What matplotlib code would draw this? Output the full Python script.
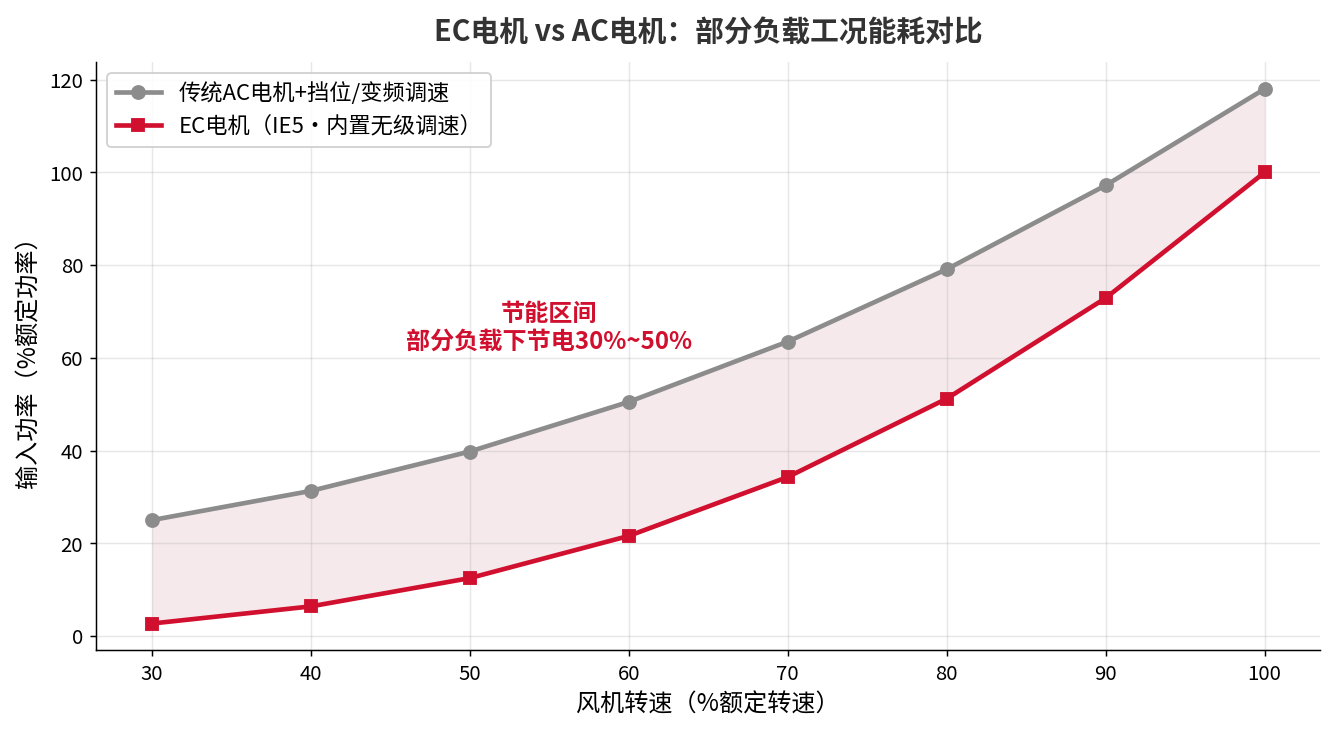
import matplotlib
matplotlib.use("Agg")
import matplotlib.pyplot as plt

plt.rcParams["font.family"] = ["Noto Sans CJK SC", "DejaVu Sans"]
plt.rcParams["axes.unicode_minus"] = False

# ── Data ──────────────────────────────────────────────────────────────────────
speed    = [30, 40, 50, 60, 70, 80, 90, 100]
ac_power = [25.0, 31.3, 39.8, 50.5, 63.5, 79.1, 97.2, 118.0]
ec_power = [2.7, 6.4, 12.5, 21.6, 34.3, 51.2, 72.9, 100.0]

GRAY = "#8c8c8c"
RED  = "#d0102e"

fig, ax = plt.subplots(figsize=(10.0, 5.5), dpi=133.5)

ax.plot(speed, ac_power, "o-", color=GRAY, linewidth=2.5, markersize=7,
        label="传统AC电机+挡位/变频调速", zorder=3)
ax.plot(speed, ec_power, "s-", color=RED, linewidth=2.5, markersize=7,
        label="EC电机（IE5·内置无级调速）", zorder=3)
ax.fill_between(speed, ec_power, ac_power, color="#b02a4a", alpha=0.1, linewidth=0)

ax.text(55, 66.5, "节能区间\n部分负载下节电30%~50%", color=RED, fontsize=13,
        fontweight="bold", ha="center", va="center", linespacing=1.2)

ax.set_title("EC电机 vs AC电机：部分负载工况能耗对比", fontsize=15.5,
             fontweight="bold", color="#333333", pad=12)
ax.set_xlabel("风机转速（%额定转速）", fontsize=13)
ax.set_ylabel("输入功率（%额定功率）", fontsize=13)
ax.set_xticks(speed)
ax.tick_params(labelsize=11)
ax.grid(alpha=0.3)
ax.spines["top"].set_visible(False)
ax.spines["right"].set_visible(False)
ax.legend(loc="upper left", fontsize=12, framealpha=0.9)

plt.subplots_adjust(left=0.072, right=0.989, top=0.915, bottom=0.114)
plt.savefig("out.png", dpi=133.5)
